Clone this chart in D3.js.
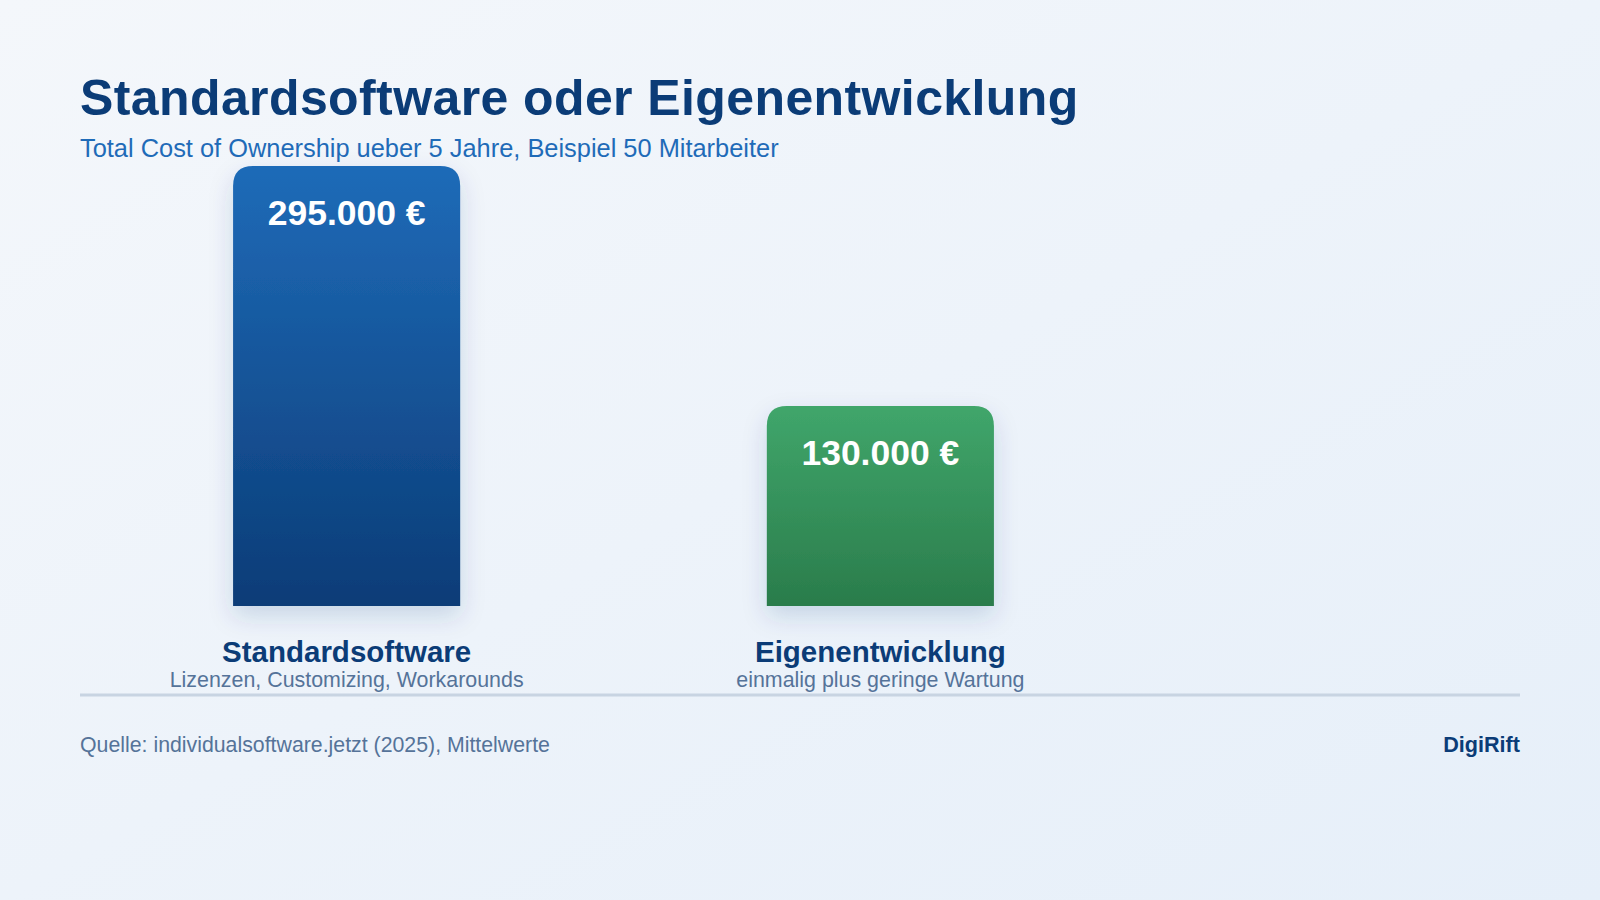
<!DOCTYPE html>
<html>
<head>
<meta charset="utf-8">
<script src="https://cdn.jsdelivr.net/npm/d3@7"></script>
<style>
  html, body { margin: 0; padding: 0; }
  body { width: 1600px; height: 900px; overflow: hidden; font-family: "Liberation Sans", Arial, Helvetica, sans-serif; }
</style>
</head>
<body>
<div class="chart"></div>
<script>
// data
const categories = ["Standardsoftware", "Eigenentwicklung"];
const values = [295000, 130000];
const valueLabels = ["295.000 €", "130.000 €"];
const notes = ["Lizenzen, Customizing, Workarounds", "einmalig plus geringe Wartung"];

const title = "Standardsoftware oder Eigenentwicklung";
const subtitle = "Total Cost of Ownership ueber 5 Jahre, Beispiel 50 Mitarbeiter";
const source = "Quelle: individualsoftware.jetzt (2025), Mittelwerte";
const brand = "DigiRift";

const outerWidth = 1600;
const outerHeight = 900;
const left = 80, right = 1520;
const barTop = 166, barBottom = 606;

const svg = d3.select(".chart")
    .append("svg")
    .attr("width", outerWidth)
    .attr("height", outerHeight);

const defs = svg.append("defs");

// background
const bg = defs.append("linearGradient")
    .attr("id", "bg")
    .attr("x1", 0).attr("y1", 0).attr("x2", 1).attr("y2", 1);
bg.append("stop").attr("offset", "0%").attr("stop-color", "#f4f7fb");
bg.append("stop").attr("offset", "100%").attr("stop-color", "#e6eff9");

const grads = [
    {id: "g0", top: "#1f6bb8", bottom: "#0b3c77"},
    {id: "g1", top: "#40a66b", bottom: "#2a7c4b"}
];
grads.forEach(g => {
    const lg = defs.append("linearGradient")
        .attr("id", g.id)
        .attr("x1", 0).attr("y1", 0).attr("x2", 0).attr("y2", 1);
    lg.append("stop").attr("offset", "0%").attr("stop-color", g.top);
    lg.append("stop").attr("offset", "100%").attr("stop-color", g.bottom);
});

const shadow = defs.append("filter")
    .attr("id", "shadow")
    .attr("x", "-40%").attr("y", "-20%")
    .attr("width", "180%").attr("height", "150%");
shadow.append("feDropShadow")
    .attr("dx", 0).attr("dy", 10)
    .attr("stdDeviation", 12)
    .attr("flood-color", "#0b3c77")
    .attr("flood-opacity", 0.16);

svg.append("rect")
    .attr("width", outerWidth)
    .attr("height", outerHeight)
    .attr("fill", "url(#bg)");

// titles
svg.append("text")
    .attr("x", left).attr("y", 115)
    .attr("fill", "#0b3c77")
    .attr("font-size", 50)
    .attr("letter-spacing", 0.4)
    .attr("font-weight", 700)
    .text(title);

svg.append("text")
    .attr("x", left).attr("y", 157)
    .attr("fill", "#1f6bb8")
    .attr("font-size", 25.4)
    .text(subtitle);

// scales
const xScale = d3.scaleBand()
    .domain(categories)
    .range([left, left + 1067])
    .paddingInner(0.5745)
    .paddingOuter(0.2868);

// bars sit on a small base below zero
const yScale = d3.scaleLinear()
    .domain([-7500, d3.max(values)])
    .range([barBottom, barTop]);

const data = categories.map((c, i) => ({cat: c, value: values[i], label: valueLabels[i], note: notes[i], i}));

// bar with rounded top corners
function barPath(d) {
    const x0 = xScale(d.cat), w = xScale.bandwidth();
    const y0 = yScale(d.value), y1 = yScale.range()[0];
    const r = 20;
    return `M${x0},${y1} L${x0},${y0 + r} Q${x0},${y0} ${x0 + r},${y0}` +
        ` L${x0 + w - r},${y0} Q${x0 + w},${y0} ${x0 + w},${y0 + r} L${x0 + w},${y1} Z`;
}

const bars = svg.append("g").attr("class", "bars");

bars.selectAll("path")
    .data(data)
    .join("path")
    .attr("d", barPath)
    .attr("fill", d => `url(#g${d.i})`)
    .attr("filter", "url(#shadow)");

bars.selectAll("text.value")
    .data(data)
    .join("text")
    .attr("class", "value")
    .attr("x", d => xScale(d.cat) + xScale.bandwidth() / 2)
    .attr("y", d => yScale(d.value) + 59)
    .attr("text-anchor", "middle")
    .attr("fill", "#ffffff")
    .attr("font-size", 35.5)
    .attr("font-weight", 700)
    .text(d => d.label);

// category labels
const xAxis = svg.append("g").attr("class", "axis-x");

xAxis.selectAll("text.cat")
    .data(data)
    .join("text")
    .attr("class", "cat")
    .attr("x", d => xScale(d.cat) + xScale.bandwidth() / 2)
    .attr("y", 662)
    .attr("text-anchor", "middle")
    .attr("fill", "#0b3c77")
    .attr("font-size", 29.5)
    .attr("font-weight", 700)
    .text(d => d.cat);

xAxis.selectAll("text.note")
    .data(data)
    .join("text")
    .attr("class", "note")
    .attr("x", d => xScale(d.cat) + xScale.bandwidth() / 2)
    .attr("y", 687)
    .attr("text-anchor", "middle")
    .attr("fill", "#557399")
    .attr("font-size", 21.4)
    .text(d => d.note);

svg.append("line")
    .attr("x1", left).attr("x2", right)
    .attr("y1", 695).attr("y2", 695)
    .attr("stroke", "#c8d4e2")
    .attr("stroke-width", 3);

// footer
svg.append("text")
    .attr("x", left).attr("y", 752)
    .attr("fill", "#557399")
    .attr("font-size", 21.3)
    .text(source);

svg.append("text")
    .attr("x", right).attr("y", 752)
    .attr("text-anchor", "end")
    .attr("fill", "#0b3c77")
    .attr("font-size", 21.6)
    .attr("font-weight", 700)
    .text(brand);
</script>
</body>
</html>
